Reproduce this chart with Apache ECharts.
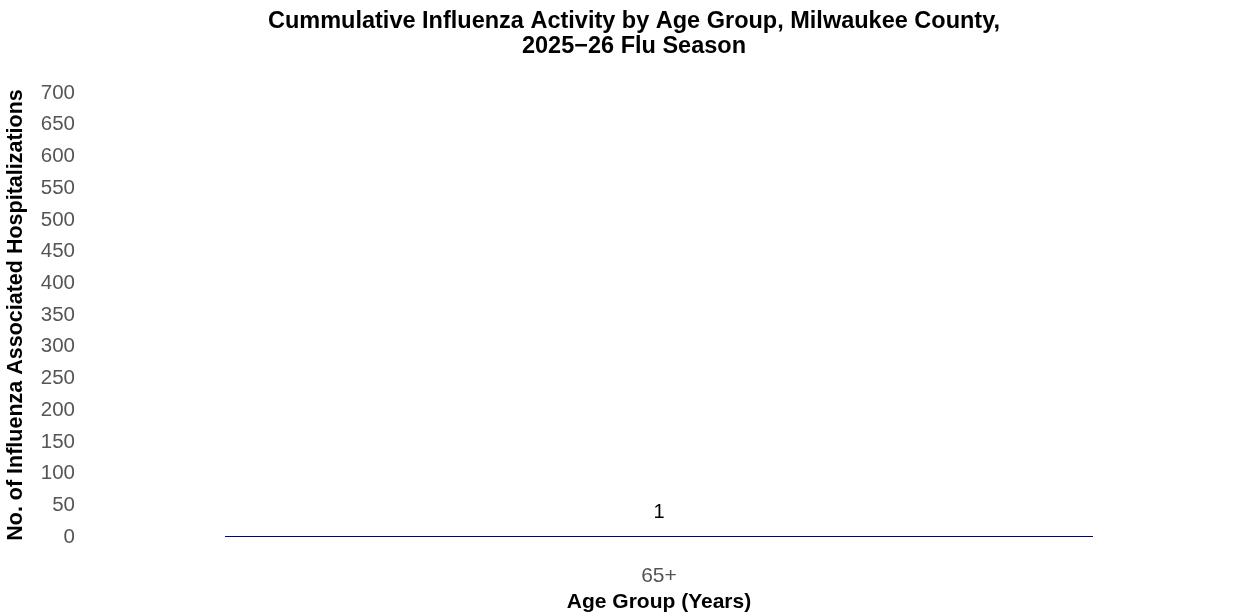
<!DOCTYPE html>
<html>
<head>
<meta charset="utf-8">
<script src="https://cdn.jsdelivr.net/npm/echarts@6/dist/echarts.min.js"></script>
<style>
  html, body { margin: 0; padding: 0; background: #fff; }
  #chart { width: 1238px; height: 613px; }
</style>
</head>
<body>
<div id="chart"></div>
<script>
const ageGroups = ['65+'];
const hospitalizations = [1];
const yTicks = { min: 0, max: 700, interval: 50 };

const chart = echarts.init(document.getElementById('chart'));

const font = 'Liberation Sans, Arial, sans-serif';

chart.setOption({
  animation: false,
  title: {
    text: 'Cummulative Influenza Activity by Age Group, Milwaukee County,\n2025\u221226 Flu Season',
    left: 629,
    top: 4,
    textAlign: 'center',
    textStyle: {
      fontFamily: font,
      fontSize: 23.5,
      fontWeight: 'bold',
      color: '#000',
      lineHeight: 25
    }
  },
  grid: {
    left: 90,
    right: 10,
    top: 93,
    bottom: 76,
    containLabel: false,
    outerBoundsMode: 'none'
  },
  xAxis: {
    type: 'category',
    data: ageGroups,
    name: 'Age Group (Years)',
    nameLocation: 'middle',
    nameGap: 55,
    nameTextStyle: {
      fontFamily: font,
      fontSize: 21,
      fontWeight: 'bold',
      color: '#000'
    },
    axisLine: { show: false },
    axisTick: { show: false },
    axisLabel: {
      margin: 29,
      fontFamily: font,
      fontSize: 21,
      color: '#555'
    }
  },
  yAxis: {
    type: 'value',
    min: yTicks.min,
    max: yTicks.max,
    interval: yTicks.interval,
    name: 'No. of Influenza Associated Hospitalizations',
    nameLocation: 'middle',
    nameGap: 63,
    nameTextStyle: {
      fontFamily: font,
      fontSize: 21.5,
      fontWeight: 'bold',
      color: '#000'
    },
    axisLine: { show: false },
    axisTick: { show: false },
    splitLine: { show: false },
    axisLabel: {
      margin: 15,
      fontFamily: font,
      fontSize: 20.5,
      color: '#555'
    }
  },
  series: [
    {
      type: 'bar',
      data: hospitalizations,
      barWidth: 868,
      barMinHeight: 1,
      itemStyle: { color: '#00008B' },
      label: {
        show: true,
        position: 'top',
        distance: 14,
        fontFamily: font,
        fontSize: 20,
        color: '#000'
      }
    }
  ]
});

window.addEventListener('resize', () => {
  chart.resize();
});
</script>
</body>
</html>
